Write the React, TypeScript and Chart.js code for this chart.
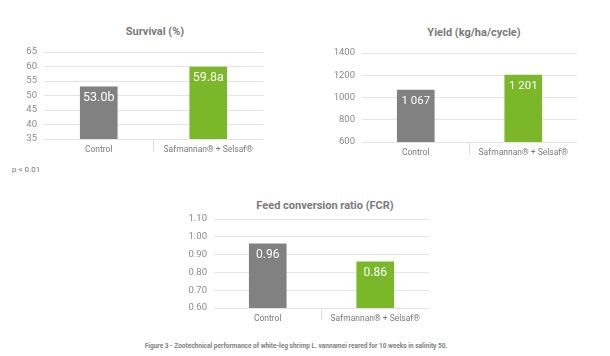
import React, { useEffect, useRef } from "react";
import { Chart, registerables } from "chart.js";

Chart.register(...registerables);

// ---- data ----
const categories = ["Control", "Safmannan® + Selsaf®"];

const survivalValues = [53.0, 59.8];
const survivalLabels = ["53.0b", "59.8a"];
const survivalTicks = [35, 40, 45, 50, 55, 60, 65];

const yieldValues = [1067, 1201];
const yieldLabels = ["1 067", "1 201"];
const yieldTicks = [600, 800, 1000, 1200, 1400];

const fcrValues = [0.96, 0.86];
const fcrLabels = ["0.96", "0.86"];
const fcrTicks = [0.6, 0.7, 0.8, 0.9, 1.0, 1.1];

const barColors = ["#818181", "#7ab82a"];
const FONT = "Roboto, 'DejaVu Sans', sans-serif";

type Spec = {
  values: number[];
  valueLabels: string[];
  valueSize: number;
  ticks: number[];
  fmt: (v: number) => string;
  yWidth: number;
  xHeight: number;
  padding: { left: number; top: number; right: number; bottom: number };
};

function BarPanel(props: {
  spec: Spec;
  left: number;
  top: number;
  width: number;
  height: number;
}) {
  const ref = useRef<HTMLCanvasElement | null>(null);
  const { spec } = props;
  useEffect(() => {
    if (!ref.current) return;
    const valueLabelPlugin = {
      id: "valueLabels",
      afterDatasetsDraw(chart: any) {
        const ctx = chart.ctx;
        const meta = chart.getDatasetMeta(0);
        ctx.save();
        ctx.fillStyle = "#ffffff";
        ctx.font = `${spec.valueSize}px ${FONT}`;
        ctx.textAlign = "center";
        ctx.textBaseline = "top";
        meta.data.forEach((bar: any, i: number) => {
          ctx.fillText(spec.valueLabels[i], bar.x, bar.y + 5);
        });
        ctx.restore();
      },
    };
    const chart = new Chart(ref.current, {
      type: "bar",
      data: {
        labels: categories,
        datasets: [
          {
            data: spec.values,
            backgroundColor: barColors,
            borderWidth: 0,
            barThickness: 37,
          },
        ],
      },
      options: {
        animation: false,
        responsive: false,
        maintainAspectRatio: false,
        layout: { padding: spec.padding },
        plugins: {
          legend: { display: false },
          title: { display: false },
          tooltip: { enabled: false },
        },
        scales: {
          x: {
            afterFit: (s: any) => {
              s.height = spec.xHeight;
            },
            border: { display: false },
            grid: {
              offset: true,
              drawOnChartArea: false,
              drawTicks: true,
              tickLength: 12,
              color: (c: any) => (c.index === 1 ? "#dcdcdc" : "transparent"),
            },
            ticks: {
              padding: -6,
              color: "#7a7a7a",
              font: { family: FONT, size: 8.5 },
              maxRotation: 0,
            },
          },
          y: {
            min: spec.ticks[0],
            max: spec.ticks[spec.ticks.length - 1],
            afterFit: (s: any) => {
              s.width = spec.yWidth;
            },
            afterBuildTicks: (s: any) => {
              s.ticks = spec.ticks.map((v) => ({ value: v }));
            },
            border: { display: false },
            grid: { color: "#e4e4e4", drawTicks: false, lineWidth: 1 },
            ticks: {
              padding: 7,
              color: "#8a8a8a",
              font: { family: FONT, size: 9.5 },
              callback: (v: any) => spec.fmt(Number(v)),
            },
          },
        },
      },
      plugins: [valueLabelPlugin],
    } as any);
    return () => chart.destroy();
  }, []);
  return (
    <canvas
      ref={ref}
      width={props.width}
      height={props.height}
      style={{
        position: "absolute",
        left: props.left,
        top: props.top,
        width: props.width,
        height: props.height,
      }}
    />
  );
}

const titleStyle = (cx: number, cy: number): React.CSSProperties => ({
  position: "absolute",
  left: cx - 150,
  top: cy - 8,
  width: 300,
  textAlign: "center",
  fontFamily: FONT,
  fontWeight: 700,
  fontSize: 11,
  lineHeight: "16px",
  color: "#7a7a7a",
  whiteSpace: "nowrap",
});

export default function App() {
  return (
    <div
      style={{
        position: "absolute",
        left: 0,
        top: 0,
        width: 610,
        height: 356,
        background: "#ffffff",
        overflow: "hidden",
      }}
    >
      <div style={titleStyle(155, 32)}>Survival (%)</div>
      <div style={titleStyle(474, 33)}>Yield (kg/ha/cycle)</div>
      <div style={titleStyle(325, 206)}>Feed conversion ratio (FCR)</div>

      <BarPanel
        left={0}
        top={0}
        width={300}
        height={170}
        spec={{
          values: survivalValues,
          valueLabels: survivalLabels,
          valueSize: 12.5,
          ticks: survivalTicks,
          fmt: (v) => String(v),
          yWidth: 44,
          xHeight: 31,
          padding: { left: 0, top: 52, right: 37, bottom: 0 },
        }}
      />
      <BarPanel
        left={300}
        top={0}
        width={310}
        height={170}
        spec={{
          values: yieldValues,
          valueLabels: yieldLabels,
          valueSize: 11.5,
          ticks: yieldTicks,
          fmt: (v) => String(v),
          yWidth: 62,
          xHeight: 28,
          padding: { left: 0, top: 53, right: 33, bottom: 0 },
        }}
      />
      <BarPanel
        left={150}
        top={190}
        width={320}
        height={150}
        spec={{
          values: fcrValues,
          valueLabels: fcrLabels,
          valueSize: 12,
          ticks: fcrTicks,
          fmt: (v) => v.toFixed(2),
          yWidth: 64,
          xHeight: 32,
          padding: { left: 0, top: 29, right: 41, bottom: 0 },
        }}
      />

      <div
        style={{
          position: "absolute",
          left: 12,
          top: 165,
          fontFamily: FONT,
          fontSize: 8,
          lineHeight: "10px",
          color: "#777777",
        }}
      >
        p &lt; 0.01
      </div>
      <div
        style={{
          position: "absolute",
          left: 0,
          top: 342,
          width: 592,
          textAlign: "center",
          fontFamily: FONT,
          fontWeight: 700,
          fontSize: 6.5,
          lineHeight: "8px",
          color: "#808080",
          whiteSpace: "nowrap",
        }}
      >
        Figure 3 - Zootechnical performance of white-leg shrimp L. vannamei reared for 10 weeks in salinity 50.
      </div>
    </div>
  );
}
